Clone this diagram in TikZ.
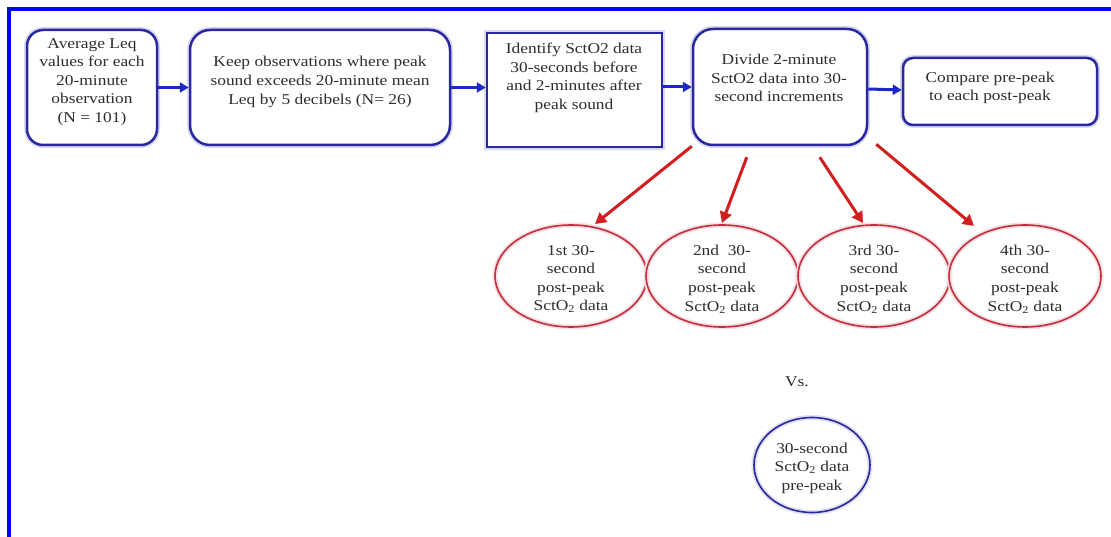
\documentclass[tikz,border=0pt]{standalone}
\usepackage{fontspec}
\setmainfont[FakeStretch=1.16]{Liberation Serif}
\usetikzlibrary{shapes.geometric,calc,arrows.meta}
\definecolor{frameblue}{RGB}{0,0,255}
\definecolor{boxblue}{RGB}{40,40,160}
\definecolor{arrblue}{RGB}{30,40,200}
\definecolor{arrred}{RGB}{210,30,30}
\definecolor{ellred}{RGB}{195,45,60}
\definecolor{txtgray}{RGB}{45,45,45}
\begin{document}
\begin{tikzpicture}[x=1pt,y=-1pt,
 box/.style={draw=boxblue, line width=2.5pt, fill=white,
   preaction={draw=boxblue!18, line width=6pt}},
 txtnode/.style={text=txtgray, font=\fontsize{15}{18.6}\selectfont, align=center, inner sep=0pt},
 barrow/.style={draw=arrblue, line width=3pt, -{Triangle[length=9pt,width=10pt]}},
 rarrow/.style={draw=arrred, line width=3pt, -{Triangle[length=11pt,width=12pt]}},
 rell/.style={ellipse, draw=ellred, line width=1.6pt, minimum width=152pt, minimum height=102pt, inner sep=0pt,
   preaction={draw=ellred!15, line width=5pt}},
 bell/.style={ellipse, draw=boxblue, line width=1.6pt, minimum width=116pt, minimum height=95pt, inner sep=0pt,
   preaction={draw=boxblue!15, line width=5pt}},
]
\useasboundingbox (0,0) rectangle (1111,537);
\fill[white] (0,0) rectangle (1111,537);
\draw[frameblue, line width=4pt] (9,537) -- (9,9) -- (1111,9);

\node[box, rounded corners=16pt, minimum width=130pt, minimum height=115pt] (b1) at (92,87.5) {};
\node[txtnode] (t1) at (92,82) {Average Leq\\values for each\\20-minute\\observation\\(N = 101)};

\node[box, rounded corners=20pt, minimum width=260pt, minimum height=115pt] (b2) at (320,87.5) {};
\node[txtnode] (t2) at (320,82) {Keep observations where peak\\sound exceeds 20-minute mean\\Leq by 5 decibels (N= 26)};

\node[box, minimum width=175pt, minimum height=114pt] (b3) at (574.5,90) {};
\node[txtnode] (t3) at (574,78) {Identify SctO2 data\\30-seconds before\\and 2-minutes after\\peak sound};

\node[box, rounded corners=20pt, minimum width=174pt, minimum height=116pt] (b4) at (780,87) {};
\node[txtnode] (t4) at (779,78) {Divide 2-minute\\SctO2 data into 30-\\second increments};

\node[box, rounded corners=10pt, minimum width=194pt, minimum height=67pt] (b5) at (1000,91.5) {};
\node[txtnode] (t5) at (990,88) {Compare pre-peak\\to each post-peak};

\draw[barrow] (b1.east) -- (b2.west);
\draw[barrow] (b2.east) -- (b3.west |- b2.east);
\draw[barrow] (b3.east |- b4.east) -- (b4.west);
\draw[barrow] ($(b4.east)+(0,2)$) -- ($(b5.west)+(0,-1.5)$);

\node[rell] (e1) at (571,276) {};
\node[txtnode] (te1) at (571,279) {1st 30-\\second\\post-peak\\SctO\textsubscript{2} data};
\node[rell] (e2) at (722,276) {};
\node[txtnode] (te2) at (722,279) {2nd\ \ 30-\\second\\post-peak\\SctO\textsubscript{2} data};
\node[rell] (e3) at (874,276) {};
\node[txtnode] (te3) at (874,279) {3rd 30-\\second\\post-peak\\SctO\textsubscript{2} data};
\node[rell] (e4) at (1025,276) {};
\node[txtnode] (te4) at (1025,279) {4th 30-\\second\\post-peak\\SctO\textsubscript{2} data};

\draw[rarrow] ($(b4.south west)+(0,0)$) -- ($(e1.center)+(24,-52)$);
\draw[rarrow] ($(b4.south west)+(55,11)$) -- ($(e2.center)+(0,-53)$);
\draw[rarrow] ($(b4.south west)+(128,11)$) -- ($(e3.center)+(-11,-53)$);
\draw[rarrow] ($(b4.south east)+(8,-2)$) -- ($(e4.center)+(-51,-50)$);

\node[txtnode] (vs) at (797,382) {Vs.};
\node[bell] (e5) at (812,465) {};
\node[txtnode] (te5) at (812,468) {30-second\\SctO\textsubscript{2} data\\pre-peak};
\end{tikzpicture}
\end{document}
